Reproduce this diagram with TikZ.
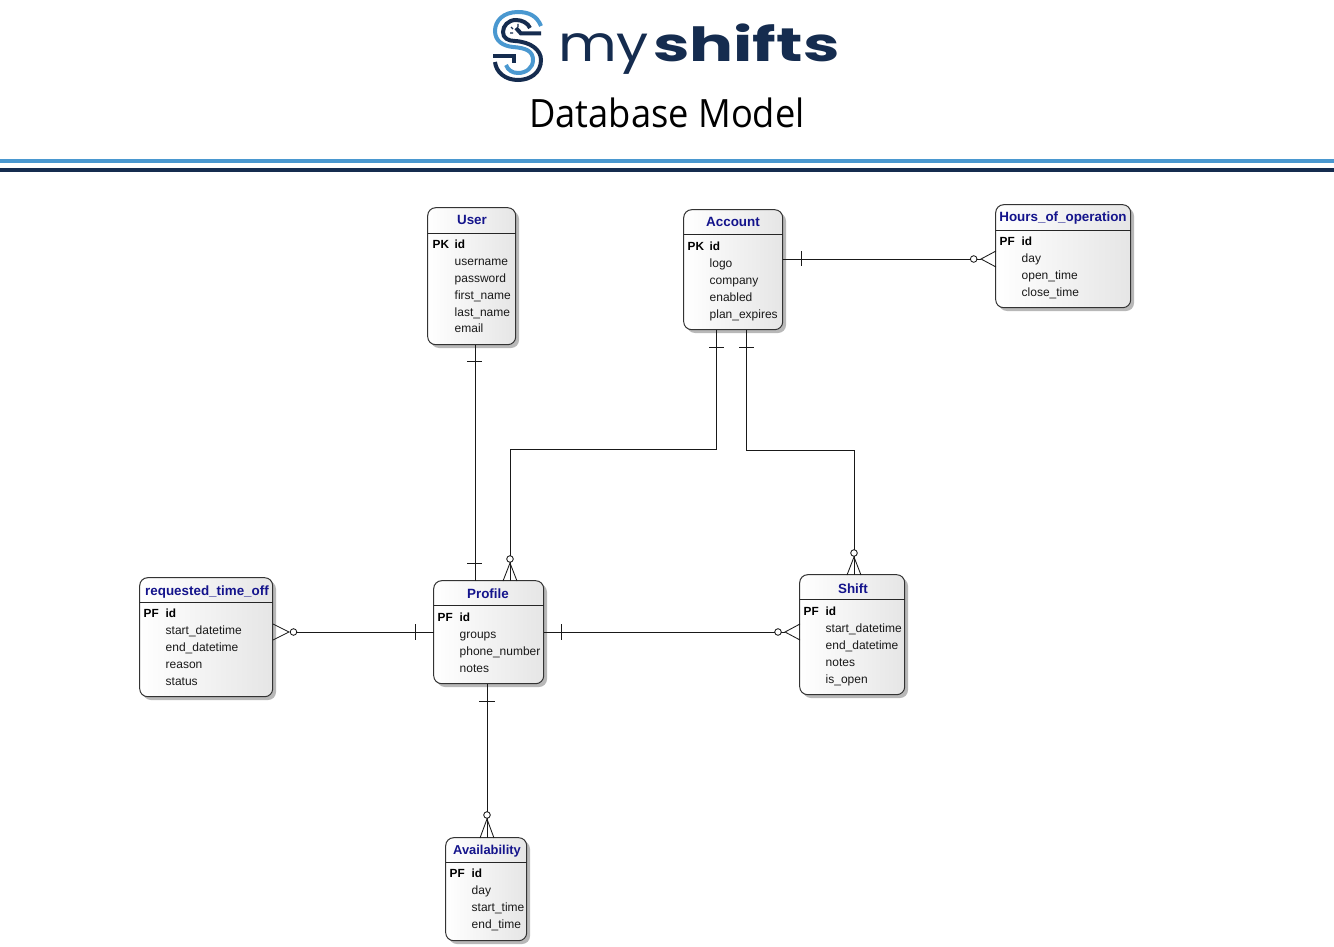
\documentclass[tikz,border=0pt]{standalone}
\usepackage{fontspec}
\setmainfont{Liberation Sans}
\newfontfamily\titlefont{Open Sans}
\newfontfamily\logofont{Poppins}
\definecolor{navy}{HTML}{152C4F}
\definecolor{sky}{HTML}{4A98D0}
\definecolor{ttl}{HTML}{14148C}
\tikzset{
 x=1pt,y=-1pt,
 ebox/.style={rounded corners=8pt,draw=black!80,line width=1pt,left color=white,right color=black!10,outer sep=0pt,inner sep=0pt},
 eshadow/.style={rounded corners=8pt,fill=black!28,draw=none},
 etitle/.style={font=\bfseries\fontsize{13.4}{14}\selectfont,text=ttl,inner sep=0pt,anchor=base},
 ekey/.style={font=\bfseries\fontsize{11.8}{13}\selectfont,text=black,inner sep=0pt,anchor=base west},
 eattr/.style={font=\fontsize{12}{13}\selectfont,text=black!90,inner sep=0pt,anchor=base west},
 rel/.style={draw=black!90,line width=1pt},
 crow/.style={draw=black!90,line width=.85pt},
 logo/.style={line width=4pt,line cap=butt},
}
% name x0 y0 x1 y1 sep title cx cy
\newcommand{\entitybox}[9]{%
 \fill[eshadow] (#2+3,#3+3) rectangle (#4+3,#5+3);
 \node[ebox,minimum width={(#4-#2)*1pt},minimum height={(#5-#3)*1pt}] (#1) at ({(#2+#4)/2-.3},{(#3+#5)/2-.3}) {};
 \draw[black!85,line width=.9pt] (#1.west |- 0,#6) -- (#1.east |- 0,#6);
 \node[etitle] (#1-title) at (#8,#9+4.5) {#7};
}
% name keyx attrx y key
\newcommand{\keyrow}[5]{\node[ekey] (#1-key) at (#2-.5,#4+4) {#5}; \node[ekey] (#1-id) at (#3-.5,#4+4) {id};}
\newcommand{\attr}[4]{\node[eattr] (#1) at (#2-.5,#3+4) {#4};}
% horizontal foot: circle x, line y, box-side x, apex x
\newcommand{\crowh}[4]{%
 \draw[crow] (#1,#2) circle[radius=3.3];
 \draw[crow] (#3,#2-8) -- (#4,#2) -- (#3,#2+8);}
% vertical foot: line x, circle y, box-side y, apex y
\newcommand{\crowv}[4]{%
 \draw[crow] (#1,#2) circle[radius=3.3];
 \draw[crow] (#1-7,#3) -- (#1,#4) -- (#1+7,#3);}
\begin{document}
\begin{tikzpicture}
\useasboundingbox (0,0) rectangle (1334,947);
\fill[white] (0,0) rectangle (1334,947);
% header
\fill[sky] (0,159) rectangle (1334,163);
\fill[navy] (0,168) rectangle (1334,172);
\node[inner sep=0pt,font=\titlefont\fontsize{39}{40}\selectfont,text=black] (head) at (667,113) {\scalebox{.93}[1]{Database Model}};
\node[inner sep=0pt,anchor=base west,text=navy,font=\logofont\fontsize{50}{50}\selectfont] (logomy) at (558,62) {\scalebox{1.14}[1]{my}};
\node[inner sep=0pt,anchor=base west,text=navy,font=\logofont\bfseries\fontsize{47}{50}\selectfont] (logoshifts) at (653,62) {\scalebox{1.39}[1]{shifts}};
% logo S
\draw[logo,sky] (541,26) .. controls (537,16) and (529,12) .. (518,12) .. controls (503,12) and (495,21) .. (495,31) .. controls (495,41) and (503,46) .. (513,47) .. controls (526,48) and (533,51) .. (533,60) .. controls (533,68) and (526,73) .. (518,73) .. controls (512,73) and (508,70) .. (506,65);
\draw[logo,navy] (530,28) .. controls (528,23) and (522,20) .. (516,20) .. controls (508,20) and (503,26) .. (503,32) .. controls (503,38) and (508,41) .. (515,41) .. controls (531,42) and (541,50) .. (541,60) .. controls (541,73) and (530,80) .. (518,80) .. controls (505,80) and (496,72) .. (495,62);
\draw[logo,navy] (541,33.5) -- (521,33.5) -- (516,28);
\draw[logo,navy] (493,56) -- (514,56) -- (514,63);
\draw[navy,line width=1.2pt] (518,24) -- (518,27) (511,27) -- (513,29) (510,33) -- (513,33);
% entities
\entitybox{user}{428}{208}{516}{345}{233}{User}{472}{220}
\keyrow{user}{433}{455}{244}{PK}
\attr{user-a1}{455}{261}{username}
\attr{user-a2}{455}{278}{password}
\attr{user-a3}{455}{295}{first\_name}
\attr{user-a4}{455}{312}{last\_name}
\attr{user-a5}{455}{328}{email}
\entitybox{account}{684}{210}{783}{330}{234}{Account}{733}{222}
\keyrow{account}{688}{710}{246}{PK}
\attr{account-a1}{710}{263}{logo}
\attr{account-a2}{710}{280}{company}
\attr{account-a3}{710}{297}{enabled}
\attr{account-a4}{710}{314}{plan\_expires}
\entitybox{hours}{996}{205}{1131}{308}{230}{Hours\_of\_operation}{1063}{217}
\keyrow{hours}{1000}{1022}{241}{PF}
\attr{hours-a1}{1022}{258}{day}
\attr{hours-a2}{1022}{275}{open\_time}
\attr{hours-a3}{1022}{292}{close\_time}
\entitybox{rto}{140}{578}{273}{697}{602}{requested\_time\_off}{207}{591}
\keyrow{rto}{144}{166}{613}{PF}
\attr{rto-a1}{166}{630}{start\_datetime}
\attr{rto-a2}{166}{647}{end\_datetime}
\attr{rto-a3}{166}{664}{reason}
\attr{rto-a4}{166}{681}{status}
\entitybox{profile}{434}{581}{544}{684}{605}{Profile}{488}{594}
\keyrow{profile}{438}{460}{617}{PF}
\attr{profile-a1}{460}{634}{groups}
\attr{profile-a2}{460}{651}{phone\_number}
\attr{profile-a3}{460}{668}{notes}
\entitybox{shift}{800}{575}{905}{695}{599}{Shift}{853}{589}
\keyrow{shift}{804}{826}{611}{PF}
\attr{shift-a1}{826}{628}{start\_datetime}
\attr{shift-a2}{826}{645}{end\_datetime}
\attr{shift-a3}{826}{662}{notes}
\attr{shift-a4}{826}{679}{is\_open}
\entitybox{avail}{446}{838}{527}{941}{862}{{\fontsize{12.9}{14}\selectfont Availability}}{487}{850}
\keyrow{avail}{450}{472}{873}{PF}
\attr{avail-a1}{472}{890}{day}
\attr{avail-a2}{472}{907}{start\_time}
\attr{avail-a3}{472}{924}{end\_time}
% connectors
\draw[rel] (475,0 |- user.south) -- (475,0 |- profile.north);
\draw[rel] (467,361) -- (482,361) (467,563) -- (482,563);
\draw[rel] (716,0 |- account.south) -- (716,449) -- (510,449) -- (510,556);
\draw[rel] (709,347) -- (724,347);
\draw[rel] (510,562) -- (510,0 |- profile.north);
\crowv{510}{559}{581}{563}
\draw[rel] (746,0 |- account.south) -- (746,450) -- (854,450) -- (854,550);
\draw[rel] (739,347) -- (754,347);
\draw[rel] (854,556) -- (854,0 |- shift.north);
\crowv{854}{553}{575}{557}
\draw[rel] (account.east |- 0,259) -- (970.5,259);
\draw[rel] (801,251) -- (801,266);
\draw[rel] (977,259) -- (981,259);
\crowh{973.7}{259}{996}{981}
\draw[rel] (296.5,632) -- (profile.west |- 0,632);
\draw[rel] (415,624) -- (415,640);
\crowh{293.5}{632}{273}{289}
\draw[rel] (profile.east |- 0,632) -- (775,632);
\draw[rel] (561,624) -- (561,640);
\draw[rel] (781,632) -- (785,632);
\crowh{778}{632}{800}{785}
\draw[rel] (487,0 |- profile.south) -- (487,812);
\draw[rel] (479,701) -- (495,701);
\draw[rel] (487,818) -- (487,0 |- avail.north);
\crowv{487}{815}{838}{819}
\end{tikzpicture}
\end{document}
